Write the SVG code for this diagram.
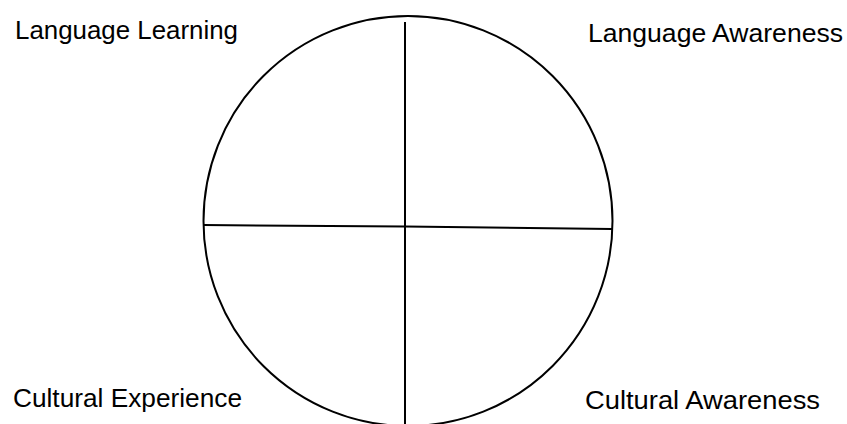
<svg xmlns="http://www.w3.org/2000/svg" width="847" height="424" viewBox="0 0 847 424">
<style>
.shape{fill:none;stroke:#000;stroke-width:2}
.lbl{font-family:"Liberation Sans",Arial,sans-serif;font-size:25px;fill:#000}
</style>
<rect width="847" height="424" fill="#fff"/>
<g id="circle"><ellipse class="shape" cx="408" cy="221" rx="204.5" ry="205"/></g>
<g id="connectors">
<line class="shape" x1="405" y1="22" x2="405" y2="424"/>
<polyline class="shape" points="203,225 405,226.5 612,229"/>
</g>
<g id="n1"><text class="lbl" x="15" y="39" textLength="223" lengthAdjust="spacingAndGlyphs">Language Learning</text></g>
<g id="n2"><text class="lbl" x="588" y="42" textLength="255" lengthAdjust="spacingAndGlyphs">Language Awareness</text></g>
<g id="n3"><text class="lbl" x="13" y="407" textLength="229" lengthAdjust="spacingAndGlyphs">Cultural Experience</text></g>
<g id="n4"><text class="lbl" x="585" y="409" textLength="235" lengthAdjust="spacingAndGlyphs">Cultural Awareness</text></g>
</svg>
